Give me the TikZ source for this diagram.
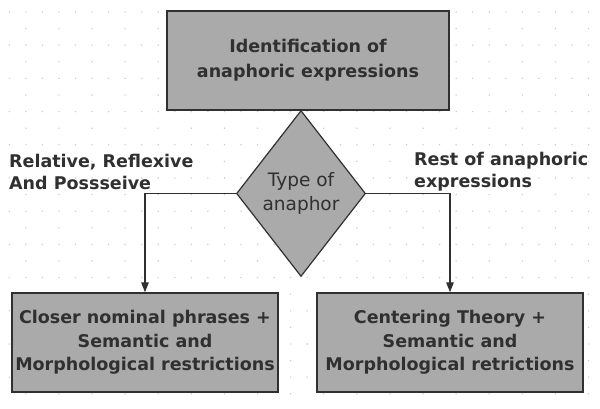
\documentclass[tikz,border=0pt]{standalone}
\usepackage{fontspec}
\setmainfont{DejaVu Sans}
\usetikzlibrary{shapes.geometric,arrows.meta}
\definecolor{boxfill}{RGB}{170,170,170}
\definecolor{ink}{RGB}{48,48,48}
\definecolor{griddot}{RGB}{205,205,205}
\tikzset{
  stepbox/.style={draw=ink, line width=1.4pt, fill=boxfill, rectangle,
    inner sep=0pt, text=ink, align=center,
    font=\fontsize{17.5}{23.5}\selectfont\bfseries},
  decision/.style={draw=ink, line width=1.2pt, fill=boxfill, diamond,
    inner sep=0pt, text=ink, align=center,
    font=\fontsize{18.5}{24}\selectfont},
  branchlabel/.style={text=ink, align=left, inner sep=0pt, anchor=west,
    font=\fontsize{17.5}{22}\selectfont\bfseries},
  flow/.style={draw=ink, line width=1.2pt,
    -{Triangle[width=7.5pt,length=10pt]}}
}
\begin{document}
\begin{tikzpicture}[x=1pt,y=-1pt]
  \useasboundingbox (0,0) rectangle (600,409);
  \fill[white] (0,0) rectangle (600,409);
  % drawing grid: dense rows and sparse rows of dots
  \foreach \r in {0,...,12}{
    \foreach \c in {0,...,35}{
      \fill[griddot] ({9.3+16.55*\c},{12+33.2*\r}) circle (0.8);
    }
    \foreach \c in {0,...,17}{
      \fill[griddot] ({25.8+33.1*\c},{28.6+33.2*\r}) circle (0.8);
    }
  }
  % nodes
  \node[stepbox, minimum width=282, minimum height=99,
        font=\fontsize{17.5}{25}\selectfont\bfseries] (ident) at (308,60.5)
    {Identification of\\anaphoric expressions};
  \node[decision, minimum width=129, minimum height=166] (type) at (301,193.5)
    {Type of\\anaphor};
  \node[stepbox, minimum width=266, minimum height=99] (closer) at (145,342.5)
    {Closer nominal phrases +\\Semantic and\\Morphological restrictions};
  \node[stepbox, minimum width=266, minimum height=99] (center) at (450,342.5)
    {Centering Theory +\\Semantic and\\Morphological retrictions};
  % branch labels
  \node[branchlabel] (lefttxt) at (9,172) {Relative, Reflexive\\And Possseive};
  \node[branchlabel] (righttxt) at (414,172) {Rest of anaphoric\\expressions};
  % connectors
  \draw[flow] (type.west) -| (closer.north);
  \draw[flow] (type.east) -| (center.north);
\end{tikzpicture}
\end{document}
